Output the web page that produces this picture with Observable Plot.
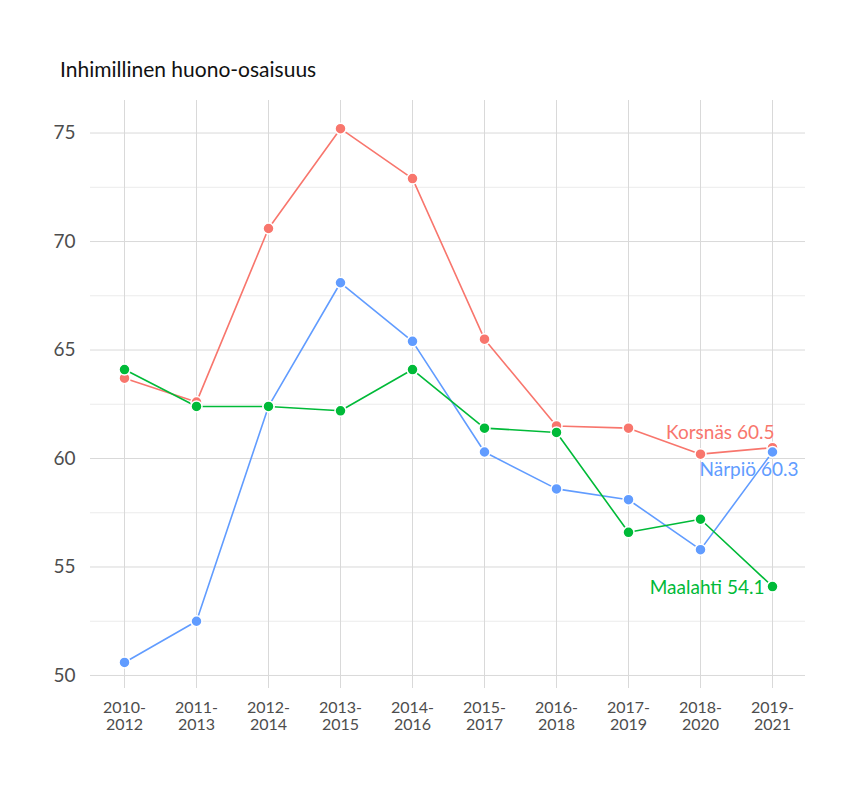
<!DOCTYPE html>
<html><head><meta charset="utf-8">
<script src="https://cdn.jsdelivr.net/npm/d3@7"></script>
<script src="https://cdn.jsdelivr.net/npm/@observablehq/plot@0.6"></script>
<style>
body{margin:0;background:#fff;font-family:Lato,sans-serif}
#title{padding:56px 0 0 60px;font-size:21px;height:34px;color:#111}
</style></head><body>
<div id="title">Inhimillinen huono-osaisuus</div>
<div id="chart"></div>
<script>
const periods = ["2010-2012","2011-2013","2012-2014","2013-2015","2014-2016","2015-2017","2016-2018","2017-2019","2018-2020","2019-2021"];
const korsnas = [63.7,62.6,70.6,75.2,72.9,65.5,61.5,61.4,60.2,60.5];
const narpio = [50.6,52.5,62.4,68.1,65.4,60.3,58.6,58.1,55.8,60.3];
const maalahti = [64.1,62.4,62.4,62.2,64.1,61.4,61.2,56.6,57.2,54.1];
const names = ["Korsnäs","Närpiö","Maalahti"];
const colors = ["#F8766D","#619CFF","#00BA38"];
const series = [korsnas, narpio, maalahti];
const data = series.flatMap((s,i)=>s.map((v,j)=>({kunta:names[i],period:periods[j],value:v})));
const last = data.filter(d=>d.period===periods[periods.length-1]);
const offs = {"Korsnäs":[2,-15],"Närpiö":[26,18],"Maalahti":[-8,1]};
const chart = Plot.plot({
  width:864, height:650, marginTop:10, marginLeft:90, marginRight:59, marginBottom:52,
  style:{fontFamily:"Lato, sans-serif", fontSize:"15px", color:"#4d4d4d"},
  x:{type:"point", domain:periods, padding:0.46, label:null},
  y:{domain:[49.4,76.5], label:null},
  color:{domain:names, range:colors},
  marks:[
    Plot.gridY([52.5,57.5,62.5,67.5,72.5],{stroke:"#ebebeb",strokeOpacity:1}),
    Plot.gridY([50,55,60,65,70,75],{stroke:"#d9d9d9",strokeOpacity:1}),
    Plot.gridX(periods,{stroke:"#d9d9d9",strokeOpacity:1}),
    Plot.axisY({ticks:[50,55,60,65,70,75],tickSize:0,fontSize:19,dx:-6}),
    Plot.axisX({tickSize:0,fontSize:16,tickFormat:d=>d.replace("-","-\n"),dy:4,lineHeight:1.05}),
    Plot.line(data,{x:"period",y:"value",z:"kunta",stroke:"kunta",strokeWidth:1.6}),
    Plot.dot(data,{x:"period",y:"value",fill:"kunta",stroke:"white",strokeWidth:1.5,r:5.5}),
    ...last.map(d=>Plot.text([d],{x:"period",y:"value",fill:"kunta",text:d=>`${d.kunta} ${d.value}`,
      textAnchor:"end",dx:offs[d.kunta][0],dy:offs[d.kunta][1],fontSize:19}))
  ]
});
d3.select("#chart").append(()=>chart);
</script></body></html>
